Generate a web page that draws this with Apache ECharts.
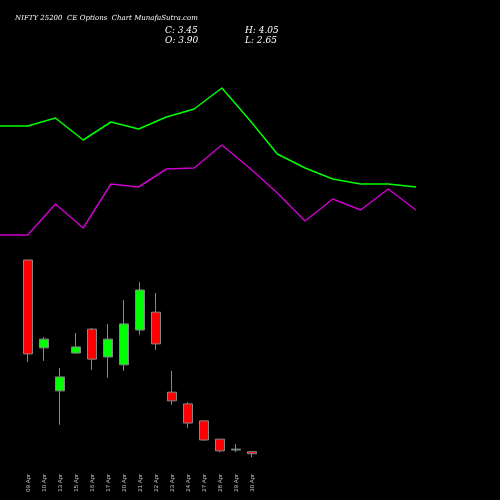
<!DOCTYPE html><html><head><meta charset="utf-8">
<script src="https://cdn.jsdelivr.net/npm/echarts@6/dist/echarts.min.js"></script>
<style>html,body{margin:0;background:#000}#c{width:500px;height:500px}</style></head><body><div id="c"></div>
<script>
const dates=['09 Apr','10 Apr','13 Apr','15 Apr','16 Apr','17 Apr','20 Apr','21 Apr','22 Apr','23 Apr','24 Apr','27 Apr','28 Apr','29 Apr','30 Apr'];
const opens=[48.0,27.8,17.9,26.6,32.1,25.7,23.9,31.9,36.0,17.6,14.9,11.0,6.8,4.3,3.9];
const closes=[26.4,29.8,21.1,28.0,25.2,29.8,33.3,41.1,28.7,15.6,10.5,6.6,4.1,4.5,3.45];
const lows=[24.5,24.8,10.1,26.4,22.7,20.9,22.5,30.8,27.3,14.7,9.4,6.4,3.8,3.8,2.65];
const highs=[48.0,30.3,23.2,31.2,32.4,33.3,38.8,42.9,40.4,22.5,15.3,11.0,6.8,5.7,4.05];
const greenLine=[174,174,182,160,178,171,183,191,212,180,146,132,121,116,116,113];
const purpleLine=[65,65,96,72,116,113,131,132,155,132,107,79,101,90,111,90];
const lineIdx=greenLine.map((_,i)=>i);
const ch=echarts.init(document.getElementById('c'));
ch.setOption({backgroundColor:'#000',animation:false,
title:[{text:'NIFTY 25200  CE Options  Chart MunafaSutra.com',left:10,top:10,textStyle:{color:'#fff',fontSize:7,fontFamily:'DejaVu Serif',fontStyle:'italic',fontWeight:'normal'}},
{text:'C: 3.45\nO: 3.90',left:160,top:21,textStyle:{color:'#fff',fontSize:9,fontFamily:'DejaVu Serif',fontStyle:'italic',fontWeight:'normal',lineHeight:10}},
{text:'H: 4.05\nL: 2.65',left:240,top:21,textStyle:{color:'#fff',fontSize:9,fontFamily:'DejaVu Serif',fontStyle:'italic',fontWeight:'normal',lineHeight:10}}],
grid:[{left:0,top:0,width:416,height:300},{left:20,top:250,width:240,height:212}],
xAxis:[{gridIndex:0,type:'value',min:0,max:15,show:false},
{gridIndex:1,type:'category',data:dates,axisLine:{show:false},axisTick:{show:false},splitLine:{show:false},
axisLabel:{rotate:90,color:'#ccc',fontSize:6,margin:12,interval:0}}],
yAxis:[{gridIndex:0,min:0,max:300,show:false},{gridIndex:1,min:1.54,max:50.3,show:false,scale:true}],
series:[
{type:'line',xAxisIndex:0,yAxisIndex:0,data:greenLine.map((v,i)=>[i,v]),symbol:'none',lineStyle:{color:'#00ff00',width:1.5}},
{type:'line',xAxisIndex:0,yAxisIndex:0,data:purpleLine.map((v,i)=>[i,v]),symbol:'none',lineStyle:{color:'#cc00cc',width:1.5}},
{type:'candlestick',xAxisIndex:1,yAxisIndex:1,barWidth:9,
data:dates.map((d,i)=>[opens[i],closes[i],lows[i],highs[i]]),
itemStyle:{color:'#00ff00',color0:'#ff0000',borderColor:'#888',borderColor0:'#888',borderWidth:1}}
]});
</script></body></html>
